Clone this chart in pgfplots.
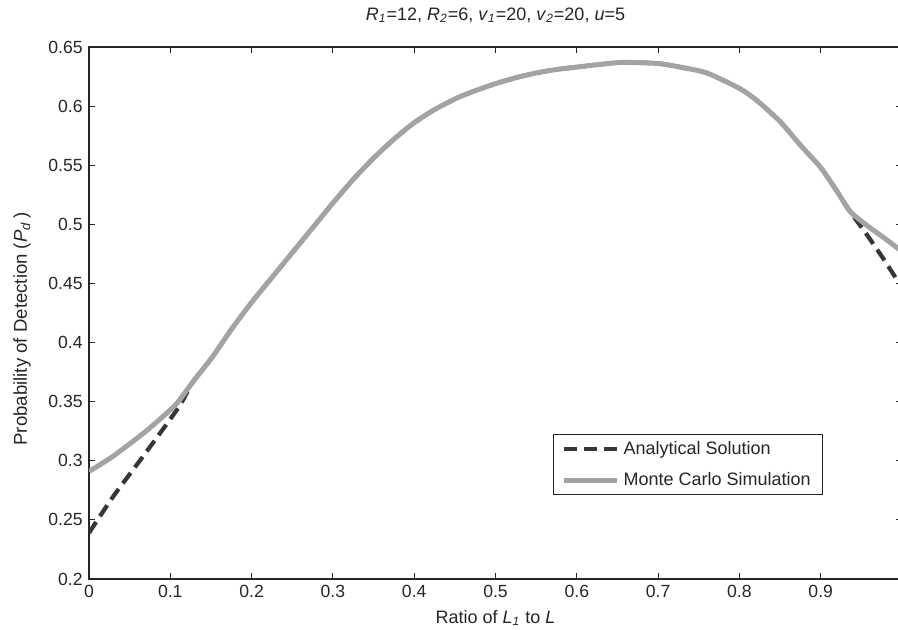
\documentclass[border=0pt]{standalone}
\usepackage{fontspec}
\setmainfont{Liberation Sans}
\usepackage{pgfplots}
\pgfplotsset{compat=1.18}
\definecolor{dashc}{HTML}{363636}
\definecolor{mcc}{HTML}{A3A3A3}
\definecolor{axc}{HTML}{262626}
\begin{document}
\fontsize{9}{11}\selectfont
\begin{tikzpicture}
\begin{axis}[
  scale only axis,
  width=406.5pt, height=266pt,
  xmin=0, xmax=1, ymin=0.2, ymax=0.65,
  xtick={0,0.1,0.2,0.3,0.4,0.5,0.6,0.7,0.8,0.9,1},
  xticklabels={0,0.1,0.2,0.3,0.4,0.5,0.6,0.7,0.8,0.9,},
  ytick={0.2,0.25,0.3,0.35,0.4,0.45,0.5,0.55,0.6,0.65},
  yticklabels={0.2,0.25,0.3,0.35,0.4,0.45,0.5,0.55,0.6,0.65},
  tick align=inside,
  major tick length=3pt,
  tick style={axc, line width=0.5pt},
  axis line style={axc, line width=0.6pt},
  /pgf/number format/assume math mode=true,
  ticklabel style={font=\fontsize{8.8}{10}\selectfont, text=black!85},
  title={\textit{R}\textsubscript{\textit{1}}=12, \textit{R}\textsubscript{\textit{2}}=6, \textit{v}\textsubscript{\textit{1}}=20, \textit{v}\textsubscript{\textit{2}}=20, \textit{u}=5},
  title style={at={(axis description cs:0.5,1)}, anchor=center, yshift=10pt, font=\fontsize{9}{11}\selectfont, text=black!85},
  xlabel={Ratio of \textit{L}\textsubscript{\textit{1}} to \textit{L}},
  xlabel style={at={(axis description cs:0.5,0)}, anchor=center, yshift=-19.5pt, font=\fontsize{9}{11}\selectfont, text=black!85},
  ylabel={Probability of Detection (\textit{P}\textsubscript{\textit{d}}\,)},
  ylabel style={at={(axis description cs:-0.0824,0.47)}, anchor=center, font=\fontsize{9.3}{11}\selectfont, text=black!85},
  legend cell align=left,
  legend image code/.code={\draw[#1] (0pt,0pt) -- (26.5pt,0pt);},
  legend style={at={(axis description cs:0.903,0.2726)}, anchor=north east,
    draw=axc, line width=0.5pt, fill=white, font=\fontsize{9}{11}\selectfont,
    inner xsep=4pt, inner ysep=1.5pt, row sep=3.5pt, nodes={inner sep=2pt, text=black!85}},
]
\addplot[dashc, line width=2.1pt, dash pattern=on 6.5pt off 3.5pt, smooth, tension=0.4] coordinates {
(0,0.239) (0.03,0.270) (0.07,0.307) (0.111,0.346) (0.127,0.366) (0.152,0.388)
(0.175,0.411) (0.2,0.434) (0.225,0.455) (0.25,0.476) (0.275,0.497) (0.3,0.518)
(0.325,0.538) (0.35,0.556) (0.375,0.572) (0.4,0.586) (0.425,0.597) (0.453,0.607)
(0.475,0.613) (0.5,0.619) (0.525,0.624) (0.55,0.628) (0.575,0.631) (0.6,0.633)
(0.625,0.635) (0.657,0.637) (0.7,0.636) (0.727,0.633) (0.76,0.628) (0.8,0.615)
(0.821,0.605) (0.85,0.587) (0.875,0.567) (0.9,0.548) (0.92,0.528) (0.936,0.511)
(0.957,0.491) (0.977,0.471) (0.993,0.454) (1.0,0.448)
};
\addlegendentry{Analytical Solution}
\addplot[mcc, line width=2.5pt, smooth, tension=0.4] coordinates {
(0,0.291) (0.03,0.304) (0.07,0.325) (0.1,0.343) (0.111,0.351) (0.127,0.366)
(0.152,0.388) (0.175,0.411) (0.2,0.434) (0.225,0.455) (0.25,0.476) (0.275,0.497)
(0.3,0.518) (0.325,0.538) (0.35,0.556) (0.375,0.572) (0.4,0.586) (0.425,0.597)
(0.453,0.607) (0.475,0.613) (0.5,0.619) (0.525,0.624) (0.55,0.628) (0.575,0.631)
(0.6,0.633) (0.625,0.635) (0.657,0.637) (0.7,0.636) (0.727,0.633) (0.76,0.628)
(0.8,0.615) (0.821,0.605) (0.85,0.587) (0.875,0.567) (0.9,0.548) (0.92,0.528)
(0.936,0.511) (0.957,0.499) (0.981,0.487) (1.0,0.477)
};
\addlegendentry{Monte Carlo Simulation}
\coordinate (bl) at (rel axis cs:0,0);
\coordinate (tr) at (rel axis cs:1,1);
\end{axis}
\pgfresetboundingbox
\path ([xshift=-44.5pt,yshift=-25.5pt]bl) rectangle ([xshift=-2pt,yshift=23.5pt]tr);
\end{tikzpicture}
\end{document}
